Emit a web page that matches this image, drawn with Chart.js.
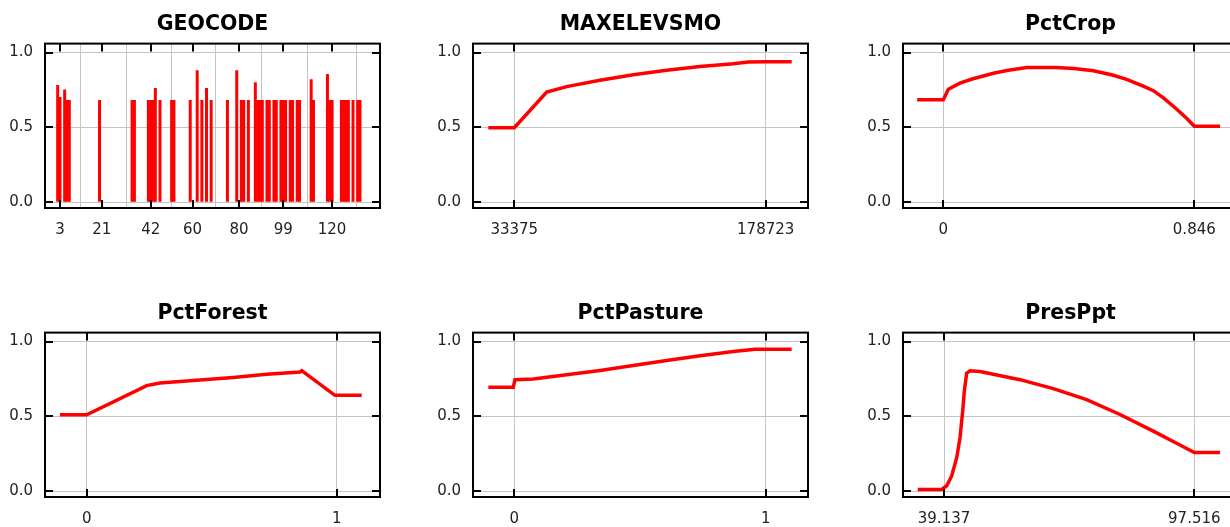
<!DOCTYPE html>
<html><head><meta charset="utf-8">
<script src="https://cdn.jsdelivr.net/npm/chart.js@4/dist/chart.umd.min.js"></script>
<style>
html,body{margin:0;padding:0;background:#fff;width:1230px;height:527px;overflow:hidden;position:relative}
canvas{position:absolute}
</style></head><body>
<canvas id="c0" width="425" height="238" style="left:0px;top:0px"></canvas>
<canvas id="c1" width="425" height="238" style="left:428px;top:0px"></canvas>
<canvas id="c2" width="425" height="238" style="left:858px;top:0px"></canvas>
<canvas id="c3" width="425" height="238" style="left:0px;top:289px"></canvas>
<canvas id="c4" width="425" height="238" style="left:428px;top:289px"></canvas>
<canvas id="c5" width="425" height="238" style="left:858px;top:289px"></canvas>
<script>
// ---- data ----
const yTicks = [0, 0.5, 1.0];

const geocodeCats = [2,3,5,6,7,20,34,35,41,42,43,44,46,51,52,59,62,64,66,68,75,79,81,82,84,87,88,89,90,92,93,95,96,98,99,100,102,103,105,106,111,112,118,119,120,124,125,126,127,129,131,132];
const geocodeVals = [0.78,0.70,0.75,0.68,0.68,0.68,0.68,0.68,0.68,0.68,0.68,0.76,0.68,0.68,0.68,0.68,0.88,0.68,0.76,0.68,0.68,0.88,0.68,0.68,0.68,0.80,0.68,0.68,0.68,0.68,0.68,0.68,0.68,0.68,0.68,0.68,0.68,0.68,0.68,0.68,0.82,0.68,0.855,0.68,0.68,0.68,0.68,0.68,0.68,0.68,0.68,0.68];
const geocodeTicks = [3,21,42,60,80,99,120];

const maxelevX = [18342,33375,52109,63672,82927,102181,121493,140747,160001,168500,178723,193756];
const maxelevY = [0.497,0.497,0.735,0.772,0.815,0.852,0.882,0.906,0.925,0.937,0.938,0.938];
const maxelevTicks = [33375,178723];

const pctCropX = [-0.088,0,0.017,0.056,0.10,0.169,0.214,0.281,0.38,0.44,0.506,0.57,0.618,0.674,0.708,0.742,0.787,0.82,0.846,0.933];
const pctCropY = [0.685,0.685,0.755,0.795,0.825,0.862,0.88,0.90,0.90,0.894,0.878,0.85,0.821,0.775,0.745,0.697,0.621,0.56,0.507,0.507];
const pctCropTicks = [0,0.846];

const pctForestX = [-0.107,0,0.24,0.293,0.453,0.586,0.72,0.853,0.86,0.993,1.10];
const pctForestY = [0.51,0.51,0.705,0.723,0.743,0.76,0.782,0.796,0.805,0.64,0.64];
const pctForestTicks = [0,1];

const pctPastureX = [-0.103,-0.004,0.003,0.076,0.208,0.341,0.473,0.606,0.739,0.871,0.957,1.0,1.103];
const pctPastureY = [0.694,0.694,0.745,0.749,0.778,0.807,0.84,0.873,0.905,0.933,0.949,0.949,0.948];
const pctPastureTicks = [0,1];

const presPptX = [33.0,38.6,39.77,40.93,42.10,42.87,43.50,43.87,44.43,45.20,47.53,56.86,64.63,72.42,80.19,87.95,94.17,97.52,103.51];
const presPptY = [0.011,0.011,0.035,0.101,0.223,0.357,0.534,0.667,0.789,0.805,0.80,0.745,0.685,0.612,0.512,0.401,0.308,0.257,0.257];
const presPptTicks = [39.137,97.516];

// ---- drawing ----
const RED = '#ff0000';
const FONT = 'DejaVu Sans';

const framePlugin = {
  id: 'frame',
  afterDraw(chart) {
    const {ctx, chartArea: a, scales} = chart;
    ctx.save();
    ctx.strokeStyle = '#000';
    ctx.lineWidth = 2;
    ctx.strokeRect(a.left, a.top, a.right - a.left, a.bottom - a.top);
    ctx.beginPath();
    const L = 8;
    scales.y.ticks.forEach(t => {
      const y = Math.round(scales.y.getPixelForValue(t.value));
      ctx.moveTo(a.left, y); ctx.lineTo(a.left + L, y);
      ctx.moveTo(a.right, y); ctx.lineTo(a.right - L, y);
    });
    scales.x.ticks.forEach(t => {
      const x = Math.round(scales.x.getPixelForValue(t.value));
      ctx.moveTo(x, a.bottom); ctx.lineTo(x, a.bottom - L);
      ctx.moveTo(x, a.top); ctx.lineTo(x, a.top + L);
    });
    ctx.stroke();
    ctx.restore();
  }
};

function lineDataset(xs, ys) {
  return {
    type: 'line',
    data: xs.map((x, i) => ({x: x, y: ys[i]})),
    borderColor: RED,
    borderWidth: 3.5,
    pointRadius: 0,
    tension: 0,
    fill: false
  };
}

function makeChart(id, title, type, datasets, xMin, xMax, xTicks) {
  const gridOpts = {color: '#c4c4c4', lineWidth: 1, drawTicks: false};
  return new Chart(document.getElementById(id), {
    type: type,
    data: {datasets: datasets},
    options: {
      responsive: false,
      animation: false,
      devicePixelRatio: 1,
      layout: {padding: {left: 0, right: 45, top: 0, bottom: 0}, autoPadding: false},
      plugins: {
        legend: {display: false},
        tooltip: {enabled: false},
        title: {
          display: true, text: title, color: '#000', fullSize: false,
          font: {family: FONT, size: 20.5, weight: 'bold'},
          padding: {top: 12, bottom: 7}
        }
      },
      scales: {
        x: {
          type: 'linear', min: xMin, max: xMax, offset: false,
          afterBuildTicks: s => { s.ticks = xTicks.map(v => ({value: v})); },
          afterFit: s => { s.height = 30; },
          ticks: {autoSkip: false, maxRotation: 0, padding: 13, color: '#222',
                  font: {family: FONT, size: 15}, callback: v => String(v)},
          grid: gridOpts,
          border: {display: false}
        },
        y: {
          type: 'linear', min: -0.04, max: 1.06,
          afterBuildTicks: s => { s.ticks = yTicks.map(v => ({value: v})); },
          afterFit: s => { s.width = 45; },
          ticks: {padding: 12, color: '#222', font: {family: FONT, size: 15},
                  callback: v => Number(v).toFixed(1)},
          grid: gridOpts,
          border: {display: false}
        }
      }
    },
    plugins: [framePlugin]
  });
}

makeChart('c0', 'GEOCODE', 'bar', [{
  data: geocodeCats.map((c, i) => ({x: c, y: geocodeVals[i]})),
  backgroundColor: RED,
  borderWidth: 0,
  barPercentage: 1.0,
  categoryPercentage: 1.0
}], -3.45, 140.6, geocodeTicks);

makeChart('c1', 'MAXELEVSMO', 'line', [lineDataset(maxelevX, maxelevY)], 9495, 203180, maxelevTicks);
makeChart('c2', 'PctCrop', 'line', [lineDataset(pctCropX, pctCropY)], -0.1359, 0.9933, pctCropTicks);
makeChart('c3', 'PctForest', 'line', [lineDataset(pctForestX, pctForestY)], -0.1668, 1.1732, pctForestTicks);
makeChart('c4', 'PctPasture', 'line', [lineDataset(pctPastureX, pctPastureY)], -0.164, 1.168, pctPastureTicks);
makeChart('c5', 'PresPpt', 'line', [lineDataset(presPptX, presPptY)], 29.574, 107.71, presPptTicks);
</script>
</body></html>
